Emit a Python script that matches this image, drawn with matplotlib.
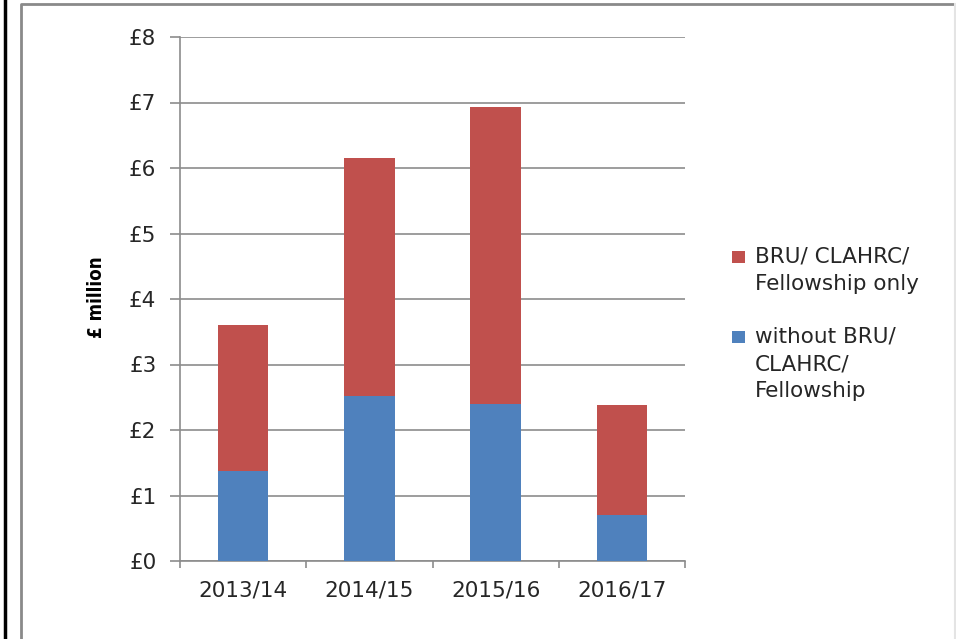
import matplotlib.pyplot as plt
from matplotlib.lines import Line2D
from matplotlib.patches import Rectangle

# Funding by year, split into the two award groups (£ million)
years = ['2013/14', '2014/15', '2015/16', '2016/17']
without_bru = [1.37, 2.52, 2.40, 0.70]
bru_only = [2.23, 3.63, 4.53, 1.68]
y_ticks = [0, 1, 2, 3, 4, 5, 6, 7, 8]

series_labels = ['BRU/ CLAHRC/\nFellowship only', 'without BRU/\nCLAHRC/\nFellowship']
series_colors = ['#C0504D', '#4F81BD']
grid_color = '#8C8C8C'
text_color = '#262626'

W, H = 956, 639
fig = plt.figure(figsize=(W / 100, H / 100), dpi=100)
plt.rcParams['font.family'] = ['DejaVu Sans']

ax = fig.add_axes([180 / W, 1 - 561 / H, 505 / W, 524 / H])

x = list(range(len(years)))
ax.bar(x, without_bru, width=0.4, color=series_colors[1], zorder=3)
ax.bar(x, bru_only, width=0.4, bottom=without_bru, color=series_colors[0], zorder=3)

ax.set_xlim(-0.5, len(years) - 0.5)
ax.set_ylim(0, 8)

# y axis: pound labels, outward ticks, horizontal gridlines
ax.set_yticks(y_ticks)
ax.set_yticklabels([f'£{v}' for v in y_ticks])
ax.tick_params(axis='y', length=7, width=1.2, color=grid_color, pad=10,
               labelsize=15.5, labelcolor=text_color)
ax.yaxis.grid(True, color=grid_color, linewidth=1.2, zorder=0)

# x axis: ticks between categories, labels centred under bars
ax.set_xticks([i - 0.5 for i in range(len(years) + 1)])
ax.set_xticklabels([])
ax.tick_params(axis='x', which='major', length=5, width=1.2, color=grid_color, direction='out')
ax.set_xticks(x, minor=True)
ax.set_xticklabels(years, minor=True)
ax.tick_params(axis='x', which='minor', length=0, pad=14, labelsize=15.5, labelcolor=text_color)

for side in ['top', 'right']:
    ax.spines[side].set_visible(False)
for side in ['left', 'bottom']:
    ax.spines[side].set_color(grid_color)
    ax.spines[side].set_linewidth(1.2)

fig.text(97 / W, 1 - 297 / H, '£ million', rotation=90, ha='center', va='center',
         fontsize=13.5, fontweight='bold', fontstretch='condensed', color='black')

# legend drawn at the right of the plot area
legend_tops = [247, 327]
for top, label, color in zip(legend_tops, series_labels, series_colors):
    fig.add_artist(Rectangle((732 / W, 1 - (top + 16) / H), 13 / W, 12 / H,
                             transform=fig.transFigure, facecolor=color, edgecolor='none'))
    fig.text(755 / W, 1 - top / H, label, ha='left', va='top', fontsize=15.5,
             color=text_color, linespacing=1.45)

# page frame
fig.add_artist(Line2D([4.5 / W, 4.5 / W], [0, 1], transform=fig.transFigure,
                      color='black', linewidth=2.5))
fig.add_artist(Line2D([20.5 / W, 20.5 / W, 954.5 / W], [0, 1 - 4 / H, 1 - 4 / H],
                      transform=fig.transFigure, color='#8A8A8A', linewidth=2))
fig.add_artist(Line2D([954.5 / W, 954.5 / W], [0, 1 - 4 / H], transform=fig.transFigure,
                      color='#E4E4E4', linewidth=1.5))

fig.savefig('out.png', dpi=100)
